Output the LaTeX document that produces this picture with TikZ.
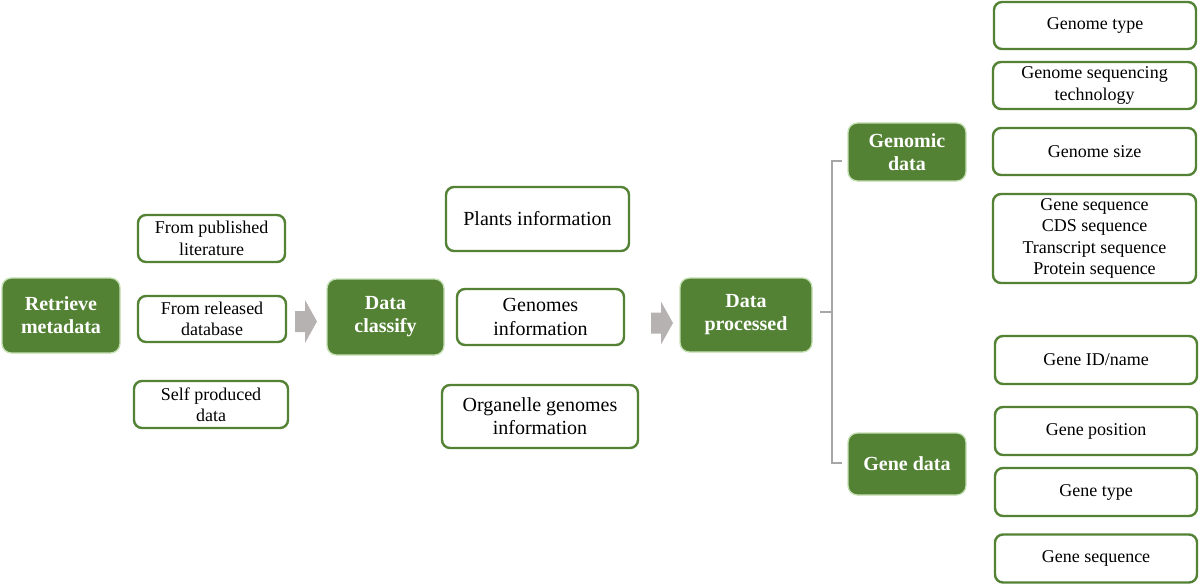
\documentclass[tikz,border=0pt]{standalone}
\usepackage{fontspec}
\setmainfont{Liberation Serif}
\definecolor{dgreen}{RGB}{84,130,53}
\definecolor{glow}{RGB}{197,224,180}
\definecolor{agray}{RGB}{182,178,178}
\definecolor{bgray}{RGB}{166,166,166}
\begin{document}
\begin{tikzpicture}[x=0.75pt,y=-0.75pt,
  sz/.style 2 args={minimum width=#1*0.75pt, minimum height=#2*0.75pt},
  wbox/.style={draw=dgreen, line width=1.8pt, rounded corners=6pt, fill=white,
    align=center, inner sep=0pt, font=\fontsize{13.5}{16}\selectfont},
  mbox/.style={wbox, font=\fontsize{15}{17.3}\selectfont},
  gbox/.style={draw=glow, line width=1pt, fill=dgreen, rounded corners=7pt,
    text=white, align=center, inner sep=0pt, font=\bfseries\fontsize{15}{17.3}\selectfont},
  garrow/.style={fill=agray, draw=none},
  bracket/.style={draw=bgray, line width=1.5pt}
]
\useasboundingbox (0,0) rectangle (1200,585);

% column 1
\node[gbox, sz={118}{75}] (ret) at (61,315.5) {Retrieve\\metadata};
\node[wbox, sz={147}{47}] (pub) at (211.5,238.5) {From published\\literature};
\node[wbox, sz={148}{46}] (rel) at (212,319) {From released\\database};
\node[wbox, sz={154}{47}] (self) at (211,404.5) {Self produced\\data};

% column 2
\node[gbox, sz={117}{76}] (cls) at (385.5,317) {Data\\classify};
\node[mbox, sz={183}{64}] (plants) at (537.5,219) {Plants information};
\node[mbox, sz={167}{56}] (genomes) at (540.5,317) {Genomes\\information};
\node[mbox, sz={196}{63}] (org) at (540,416.5) {Organelle genomes\\information};

% column 3
\node[gbox, sz={132}{74}] (proc) at (746,315) {Data\\processed};
\node[gbox, sz={118}{58}] (gdata) at (907,152) {Genomic\\data};
\node[gbox, sz={118}{62}] (gene) at (907,464) {Gene data};

% right column
\node[wbox, sz={202}{47}] (gtype) at (1095,25.5) {Genome type};
\node[wbox, sz={203}{47}] (gtech) at (1094.5,85.5) {Genome sequencing\\technology};
\node[wbox, sz={203}{47}] (gsize) at (1094.5,151.5) {Genome size};
\node[wbox, sz={203}{89}] (glist) at (1094.5,238.5) {Gene sequence\\CDS sequence\\Transcript sequence\\Protein sequence};
\node[wbox, sz={202}{48}] (gid) at (1096,360) {Gene ID/name};
\node[wbox, sz={202}{48}] (gpos) at (1096,431) {Gene position};
\node[wbox, sz={202}{48}] (gtyp) at (1096,492) {Gene type};
\node[wbox, sz={202}{48}] (gseqb) at (1096,558.5) {Gene sequence};

% gray block arrows
\coordinate (a1) at (295,321.5);
\coordinate (a2) at (651,323);
\foreach \c in {a1,a2}{
  \fill[garrow] (\c) ++(0,-10.5) -- ++(10,0) -- ++(0,-11) -- ++(12,21.5)
    -- ++(-12,21.5) -- ++(0,-11) -- ++(-10,0) -- cycle;
}

% bracket
\coordinate (bm) at (820,312);
\coordinate (bc) at (832,312);
\coordinate (bt) at (832,161);
\coordinate (bb) at (832,463);
\draw[bracket] (bm) -- (bc);
\draw[bracket] ([xshift=7.5pt]bt) -- (bt) -- (bb) -- ([xshift=7.5pt]bb);
\end{tikzpicture}
\end{document}
